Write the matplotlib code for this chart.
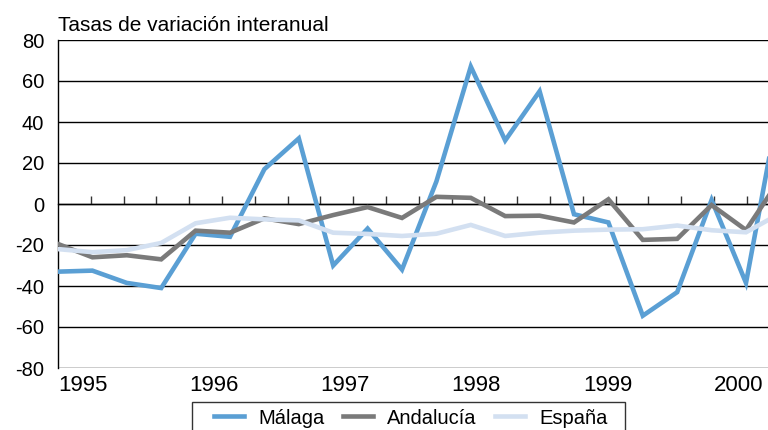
import numpy as np
import matplotlib
matplotlib.use('Agg')
import matplotlib.pyplot as plt
import matplotlib.transforms as mtransforms
from matplotlib.patches import Rectangle

plt.rcParams['font.family'] = ['Liberation Sans', 'DejaVu Sans']

# data (quarterly-ish points)
malaga = [-33, -32.5, -38.5, -41, -14.5, -16, 17, 32, -30, -12, -32, 11,
          67, 31, 55, -5, -9, -54.5, -43, 2, -38.5, 52]
andalucia = [-19.5, -26, -25, -27, -13, -14, -7, -9.8, -5.4, -1.5, -6.8, 3.5,
             3, -5.9, -5.7, -9, 2.3, -17.5, -17, -0.5, -12.7, 12.5]
espana = [-22, -23.5, -22.5, -19, -9.4, -6.7, -7.5, -8, -14, -14.6, -15.6, -14.5,
          -10.2, -15.6, -14, -13, -12.5, -12.3, -10.5, -12.8, -13.8, -4.5]
years = ['1995', '1996', '1997', '1998', '1999', '2000']
yticks = [-80, -60, -40, -20, 0, 20, 40, 60, 80]

x = np.arange(len(malaga))
tick_step = 32.8 / 34.4   # minor ticks are a bit tighter than the data spacing
x_max = (768 - 58) / 34.4

fig = plt.figure(figsize=(7.68, 4.30), dpi=100)
ax = fig.add_axes([58 / 768, 1 - 368 / 430, 1 - 58 / 768, 328 / 430])

c_mal = '#5a9fd4'
c_and = '#7a7a7a'
c_esp = '#d3e0f1'
ax.plot(x, malaga, color=c_mal, lw=3.3, label='Málaga', zorder=3, solid_joinstyle='miter')
ax.plot(x, andalucia, color=c_and, lw=3.3, label='Andalucía', zorder=4, solid_joinstyle='miter')
ax.plot(x, espana, color=c_esp, lw=3.3, label='España', zorder=5, solid_joinstyle='miter')

# grid lines
for v in yticks:
    ax.axhline(v, color='black', lw=1.0, zorder=1)
ax.set_yticks(yticks)
ax.set_yticklabels([str(v) for v in yticks], fontsize=14.5)
ax.tick_params(axis='y', length=0, pad=10)

# small ticks sitting on the zero line
ax.spines['bottom'].set_position(('data', 0))
ax.spines['bottom'].set_linewidth(1.0)
xt = np.arange(1, 22) * tick_step
ax.set_xticks(xt[xt < x_max])
ax.tick_params(axis='x', direction='in', length=6, width=1, labelbottom=False, color='#333333')
ax.spines['top'].set_visible(False)
ax.spines['right'].set_visible(False)
ax.spines['left'].set_linewidth(1.0)

ax.set_xlim(0, x_max)
ax.set_ylim(-80, 80)

trans = mtransforms.blended_transform_factory(ax.transData, ax.transAxes)
for i, yr in enumerate(years):
    ax.text(i * 4 * tick_step, -0.022, yr, transform=trans, ha='left', va='top', fontsize=16)

fig.text(58 / 768, 1 - 31 / 430, 'Tasas de variación interanual', fontsize=15,
         ha='left', va='baseline')

# legend box
fig.patches.append(Rectangle((192 / 768, -0.05), (625 - 192) / 768, (0.05 + 1 - 402 / 430),
                             transform=fig.transFigure, fill=False, edgecolor='#333333', lw=1.0))
fig.legend(loc='center left', bbox_to_anchor=(206 / 768, 1 - 418 / 430), ncol=3,
           frameon=False, fontsize=14.5, handlelength=1.5, handletextpad=0.7,
           columnspacing=0.9, borderaxespad=0)

fig.savefig('out.png', dpi=100)
